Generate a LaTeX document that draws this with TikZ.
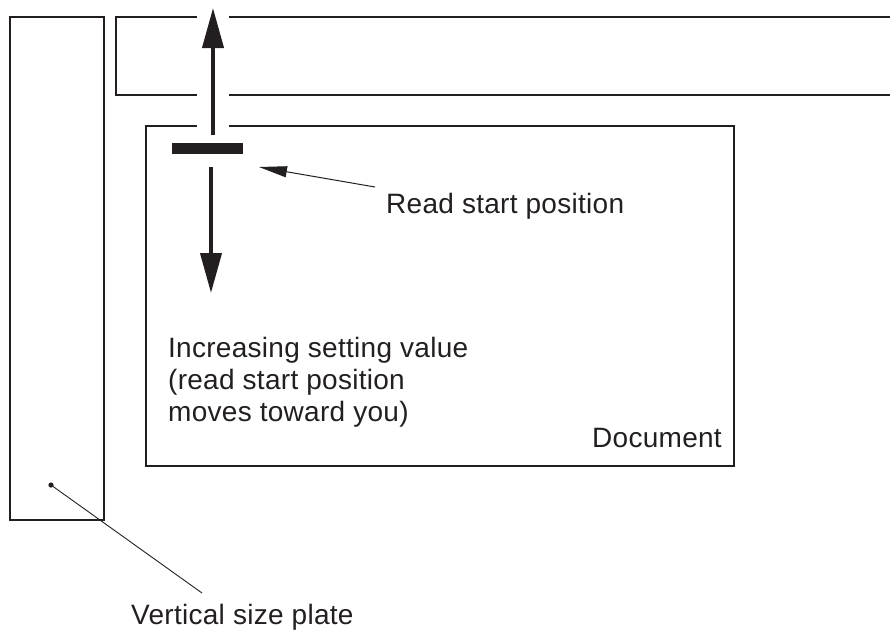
\documentclass[tikz,border=0pt]{standalone}
\usepackage{fontspec}
\setmainfont{Liberation Sans}
\newfontfamily\lblfont[LetterSpace=1.0]{Liberation Sans}
\usetikzlibrary{arrows.meta}
\definecolor{ink}{HTML}{231F20}
\begin{document}
\begin{tikzpicture}[x=1pt,y=-1pt,
  thin line/.style={draw=ink,line width=1.4pt},
  doc line/.style={draw=ink,line width=2.3pt},
  big arrow/.style={draw=ink,line width=4pt,-{Triangle[length=40pt,width=21pt]}},
  pointer/.style={draw=ink,line width=1pt,-{Triangle[length=28pt,width=11pt]}},
  label/.style={font=\lblfont\fontsize{28}{32}\selectfont,text=ink,inner sep=0pt,anchor=base west,align=left}]
\useasboundingbox (0,0) rectangle (890,630);
% vertical size plate
\draw[thin line] (10,17) rectangle (104,520);
% top frame (open to the right, gap for the arrow)
\draw[thin line] (890,17) -- (229,17);
\draw[thin line] (197,17) -- (116,17) -- (116,95) -- (197,95);
\draw[thin line] (229,95) -- (890,95);
% document
\draw[doc line] (197,126) -- (146,126) -- (146,466) -- (734,466) -- (734,126) -- (229,126);
% read start bar
\fill[ink] (172,143) rectangle (243,154);
\coordinate (upS) at (213,135);
\coordinate (upE) at (213,8);
\coordinate (dnS) at (211,167);
\coordinate (dnE) at (211,293);
\draw[big arrow] (upS) -- (upE);
\draw[big arrow] (dnS) -- (dnE);
% labels
\node[label] (rsp) at (386,213) {Read start position};
\coordinate (rspE) at (375,187);
\coordinate (rspT) at (259,167);
\draw[pointer] (rspE) -- (rspT);
\node[label] (inc) at (168,421) {Increasing setting value\\(read start position\\moves toward you)};
\node[label] (doc) at (592,447) {Document};
\node[label] (vsp) at (131,624) {Vertical size plate};
\coordinate (dot) at (51,485);
\coordinate (vspE) at (202,593);
\fill[ink] (dot) circle (2.6pt);
\draw[ink,line width=0.9pt] (vspE) -- (dot);
\end{tikzpicture}
\end{document}
